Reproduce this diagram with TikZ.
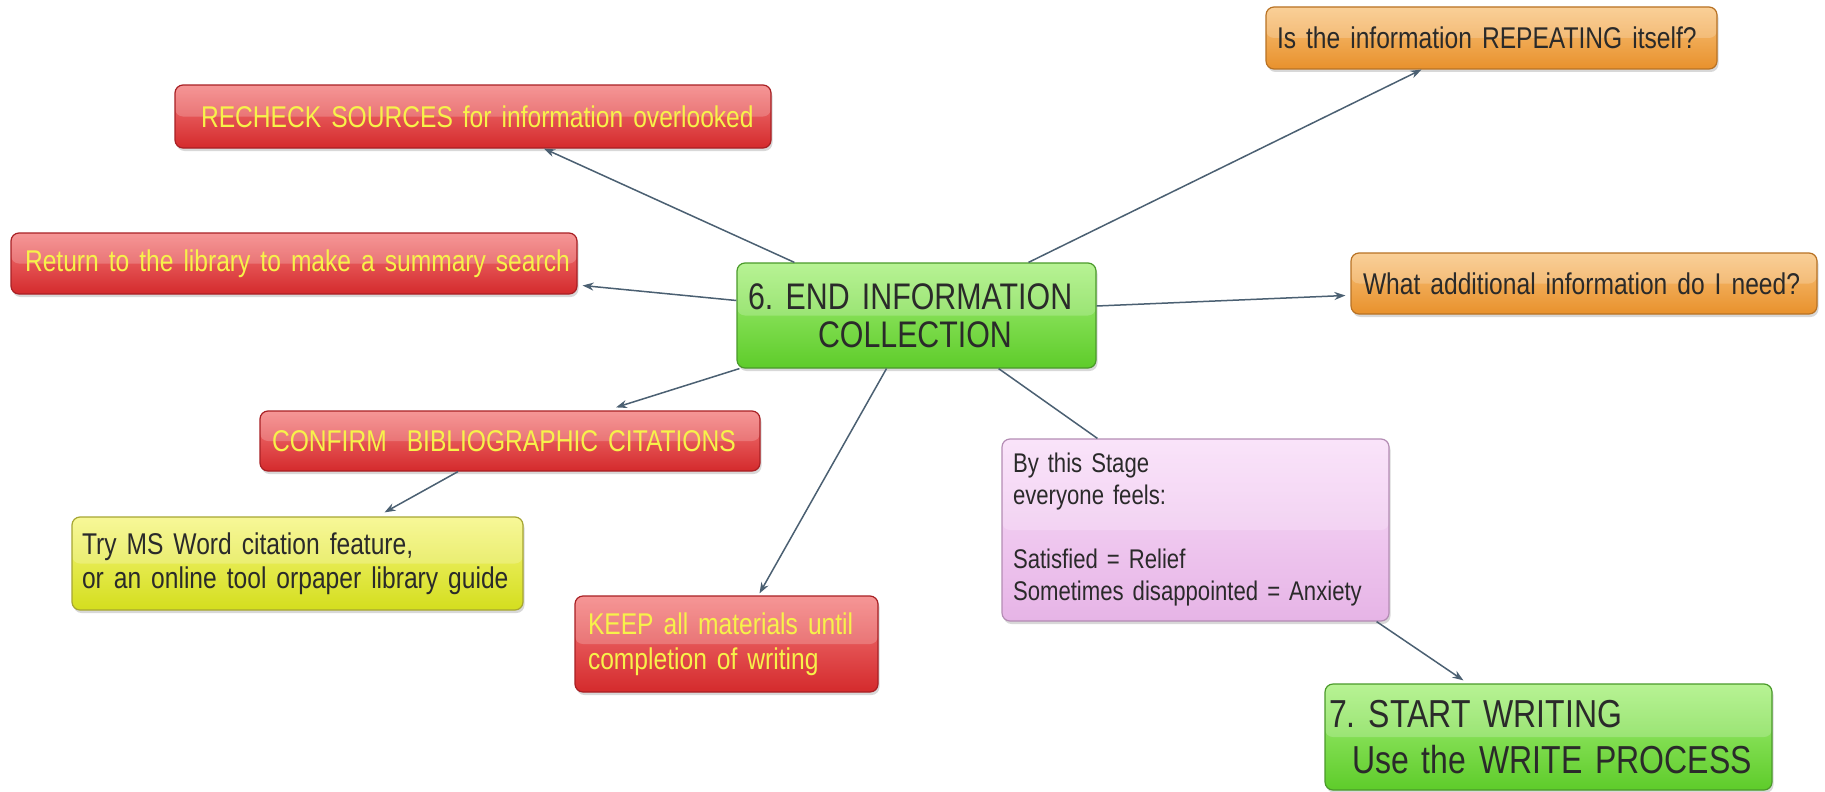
\documentclass[tikz,border=0pt]{standalone}
\usepackage{fontspec}
\setmainfont[FakeStretch=0.82]{Liberation Sans}
\usetikzlibrary{arrows.meta,shadows}
\definecolor{redT}{HTML}{F47C7C}
\definecolor{redBot}{HTML}{D42A2C}
\definecolor{redD}{HTML}{A82024}
\definecolor{yelT}{HTML}{F7F24A}
\definecolor{orT}{HTML}{F9C47E}
\definecolor{orBot}{HTML}{E8912C}
\definecolor{orD}{HTML}{B87224}
\definecolor{grT}{HTML}{A6F07A}
\definecolor{grBot}{HTML}{5ECC2A}
\definecolor{grD}{HTML}{4A9A2A}
\definecolor{ylT}{HTML}{F6F67E}
\definecolor{ylBot}{HTML}{D4DE1E}
\definecolor{ylD}{HTML}{A6A632}
\definecolor{pkT}{HTML}{F9DDF9}
\definecolor{pkBot}{HTML}{E6B4E6}
\definecolor{pkD}{HTML}{B48CB4}
\definecolor{txD}{HTML}{2A2A2A}
\definecolor{lineC}{HTML}{4B6072}
\newcommand{\fsz}[2]{\fontsize{#1}{#2}\selectfont\frenchspacing}
\newcommand{\oneline}[1]{\mbox{#1}}
\begin{document}
\begin{tikzpicture}[x=1pt,y=-1pt,
  box/.style={rounded corners=8pt, line width=1.2pt, inner sep=0pt, align=left,
    drop shadow={shadow xshift=1.5pt,shadow yshift=-3pt,opacity=0.3},
    path picture={\fill[white,opacity=0.2] (path picture bounding box.north west) rectangle (path picture bounding box.east);}},
  redbox/.style={box, draw=redD, top color=redT, bottom color=redBot, text=yelT},
  orbox/.style={box, draw=orD, top color=orT, bottom color=orBot, text=txD},
  grbox/.style={box, draw=grD, top color=grT, bottom color=grBot, text=txD},
  ylbox/.style={box, draw=ylD, top color=ylT, bottom color=ylBot, text=txD},
  pkbox/.style={box, draw=pkD, top color=pkT, bottom color=pkBot, text=txD},
  conn/.style={draw=lineC, line width=1.5pt},
  arr/.style={conn, -{Stealth[length=11pt,width=8pt]}}]
\fill[white] (0,0) rectangle (1825,792);
\useasboundingbox (0,0) rectangle (1825,792);

\node[redbox, minimum width=596pt, minimum height=63pt, text width=544pt, font=\fsz{30}{36}] (recheck) at (473,116.5) {\oneline{RECHECK SOURCES for information overlooked}};
\node[redbox, minimum width=566pt, minimum height=61pt, text width=538pt, font=\fsz{30}{36}] (ret) at (294,263.5) {\oneline{Return to the library to make a summary search}};
\node[grbox, minimum width=359pt, minimum height=105pt, text width=337pt, font=\fsz{37}{38}] (hub) at (916.5,315.5) {\oneline{6. END INFORMATION}\\\hspace*{70pt}COLLECTION};
\node[orbox, minimum width=451pt, minimum height=62pt, text width=429pt, font=\fsz{30}{36}] (repeat) at (1491.5,38) {\oneline{Is the information REPEATING itself?}};
\node[orbox, minimum width=466pt, minimum height=61pt, text width=442pt, font=\fsz{30}{36}] (what) at (1584,283.5) {\oneline{What additional information do I need?}};
\node[redbox, minimum width=500pt, minimum height=60pt, text width=476pt, font=\fsz{30}{36}] (confirm) at (510,441) {\oneline{CONFIRM\ \ BIBLIOGRAPHIC CITATIONS}};
\node[ylbox, minimum width=451pt, minimum height=93pt, text width=431pt, font=\fsz{30}{34}] (tryms) at (297.5,563.5) {\oneline{Try MS Word citation feature,}\\\oneline{or an online tool orpaper library guide}};
\node[redbox, minimum width=303pt, minimum height=96pt, text width=277pt, font=\fsz{30}{35}] (keep) at (726.5,644) {\oneline{KEEP all materials until}\\\oneline{completion of writing}};
\node[pkbox, minimum width=387pt, minimum height=182pt, text width=365pt, font=\fsz{27}{32}] (stage) at (1195.5,530) {By this Stage\\everyone feels:\\~\\Satisfied = Relief\\\oneline{Sometimes disappointed = Anxiety}};
\node[grbox, minimum width=447pt, minimum height=106pt, text width=439pt, font=\fsz{39}{46}] (write7) at (1548.5,737) {\oneline{7.\ START WRITING}\\\hspace*{23pt}\oneline{Use the WRITE PROCESS}};

\draw[arr] ([xshift=58pt]hub.north west) -- ([xshift=71pt]recheck.south);
\draw[arr] ([yshift=15pt]hub.west) -- ([xshift=5pt,yshift=-22pt]ret.east);
\draw[arr] ([xshift=112pt]hub.north) -- ([xshift=-70pt]repeat.south);
\draw[arr] ([yshift=9.5pt]hub.east) -- ([xshift=-5pt,yshift=-12pt]what.west);
\draw[arr] ([xshift=3pt]hub.south west) -- ([xshift=106pt,yshift=3pt]confirm.north);
\draw[arr] ([xshift=-52pt]confirm.south) -- ([xshift=87pt,yshift=4pt]tryms.north);
\draw[arr] ([xshift=-30pt]hub.south) -- ([xshift=33pt,yshift=2pt]keep.north);
\draw[conn] ([xshift=-98pt]hub.south east) -- ([xshift=96pt]stage.north west);
\draw[arr] ([xshift=-13pt]stage.south east) -- ([xshift=139pt,yshift=3pt]write7.north west);
\end{tikzpicture}
\end{document}
